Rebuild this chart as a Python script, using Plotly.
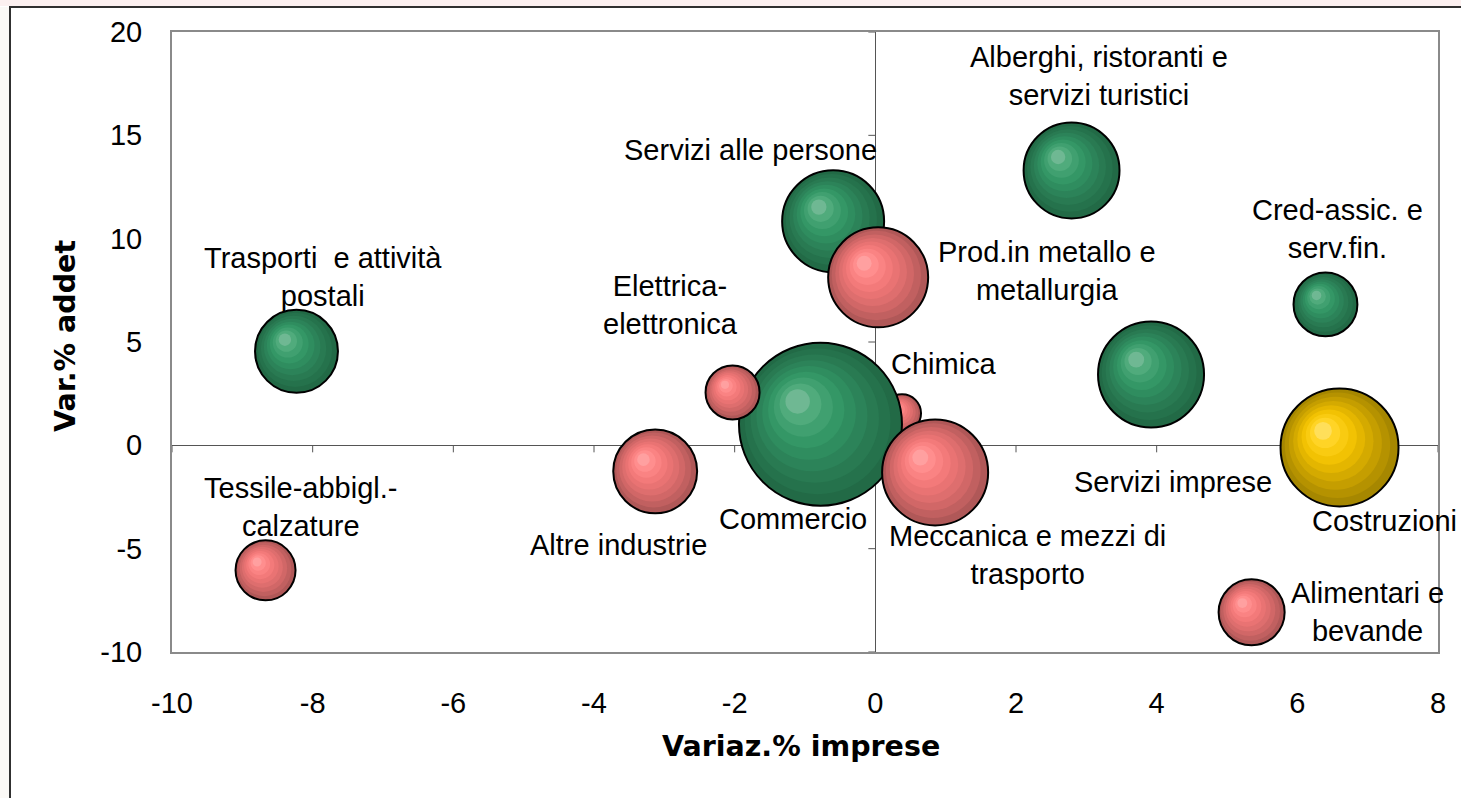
import math
import plotly.graph_objects as go

# ---------------- data ----------------
settori = ["Trasporti e attività postali", "Tessile-abbigl.-calzature", "Altre industrie",
           "Chimica", "Commercio", "Elettrica-elettronica", "Meccanica e mezzi di trasporto",
           "Servizi alle persone", "Prod.in metallo e metallurgia",
           "Alberghi, ristoranti e servizi turistici", "Servizi imprese", "Cred-assic. e serv.fin.",
           "Costruzioni", "Alimentari e bevande"]
etichette = ["Trasporti  e attività<br>postali", "Tessile-abbigl.-<br>calzature", "Altre industrie",
             "Chimica", "Commercio", "Elettrica-<br>elettronica", "Meccanica e mezzi di<br>trasporto",
             "Servizi alle persone", "Prod.in metallo e<br>metallurgia",
             "Alberghi, ristoranti e<br>servizi turistici", "Servizi imprese", "Cred-assic. e<br>serv.fin.",
             "Costruzioni", "Alimentari e<br>bevande"]
var_imprese = [-8.23, -8.67, -3.13, 0.38, -0.78, -2.03, 0.85, -0.60, 0.04, 2.79, 3.92, 6.40, 6.60, 5.35]
var_addetti = [4.55, -6.05, -1.26, 1.55, 1.02, 2.56, -1.31, 10.84, 8.13, 13.30, 3.43, 6.82, -0.10, -8.08]
peso = [172, 90, 176, 36, 664, 73, 281, 260, 250, 230, 281, 102, 348, 109]
gruppo = ["servizi", "industria", "industria", "industria", "servizi", "industria", "industria",
          "servizi", "industria", "servizi", "servizi", "servizi", "costruzioni", "industria"]
# label offsets in pixels (dx, dy up)
lab_dx = [27, 35, -37, 42, -27, -62, 92, -83, 169, 27, 22, 12, 45, 116]
lab_dy = [74, 63, -74, 49, -95, 87, -83, 71, 6, 94, -108, 75, -74, 0]

x_ticks = [-10, -8, -6, -4, -2, 0, 2, 4, 6, 8]
x_ticktext = ["-10", "-8", "-6", "-4", "-2", "0", "2", "4", "6", "8"]
y_ticks = [-10, -5, 0, 5, 10, 15, 20]
y_ticktext = ["-10", "-5", "0", "5", "10", "15", "20"]

# ---------------- layout geometry ----------------
W, H = 1461, 798
ML, MR, MT, MB = 172, 23, 32, 146
PW, PH = W - ML - MR, H - MT - MB
XR, YR = [-10, 8], [-10, 20]
px_per_x = PW / (XR[1] - XR[0])
px_per_y = PH / (YR[1] - YR[0])
SIZE_K = 10.0  # radius^2 = peso * SIZE_K

def px2paper_x(px):
    return (px - ML) / PW

def px2paper_y(py):
    return (MT + PH - py) / PH

palette = {
    "servizi": [(0, "#226a46"), (0.3, "#2a7d55"), (0.6, "#329564"), (0.85, "#4aa878"), (1, "#6fb893")],
    "industria": [(0, "#b05858"), (0.3, "#d86a6a"), (0.6, "#f27878"), (0.85, "#ff8a8a"), (1, "#ffa0a0")],
    "costruzioni": [(0, "#a68700"), (0.3, "#cba200"), (0.6, "#f0c000"), (0.85, "#ffd21c"), (1, "#ffdf5a")],
}

def hex2rgb(h):
    h = h.lstrip("#")
    return [int(h[i:i + 2], 16) for i in (0, 2, 4)]

def interp(stops, t):
    for (t0, c0), (t1, c1) in zip(stops[:-1], stops[1:]):
        if t <= t1:
            f = 0 if t1 == t0 else (t - t0) / (t1 - t0)
            a, b = hex2rgb(c0), hex2rgb(c1)
            return "rgb(%d,%d,%d)" % tuple(round(a[k] + (b[k] - a[k]) * f) for k in range(3))
    return stops[-1][1]

fig = go.Figure()
N = 9
for i in range(len(settori)):
    r = math.sqrt(peso[i] * SIZE_K)
    xs, ys, ds, cs, lw = [], [], [], [], []
    for k in range(N):
        t = k / (N - 1)
        ri = r * (1 - 0.85 * t)
        off = 0.28 * r * t
        xs.append(var_imprese[i] - off / px_per_x)
        ys.append(var_addetti[i] + off / px_per_y)
        ds.append(2 * ri)
        cs.append(interp(palette[gruppo[i]], t))
        lw.append(2 if k == 0 else 0)
    fig.add_trace(go.Scatter(
        x=xs, y=ys, mode="markers", name=settori[i], showlegend=False, hoverinfo="skip",
        marker=dict(size=ds, sizemode="diameter", color=cs, opacity=1,
                    line=dict(width=lw, color="black")),
        cliponaxis=False,
    ))

FONT = "Liberation Sans, Arial, sans-serif"
TFONT = "DejaVu Sans, Verdana, sans-serif"
annotations = []
for i in range(len(settori)):
    annotations.append(dict(
        x=var_imprese[i], y=var_addetti[i], xref="x", yref="y", text=etichette[i],
        showarrow=False, xshift=lab_dx[i], yshift=lab_dy[i], xanchor="center", yanchor="middle",
        align="center", font=dict(family=FONT, size=29, color="black")))

annotations.append(dict(x=px2paper_x(801), y=px2paper_y(746), xref="paper", yref="paper",
                        text="<b>Variaz.% imprese</b>", showarrow=False, xanchor="center", yanchor="middle",
                        font=dict(family=TFONT, size=28.5, color="black")))
annotations.append(dict(x=px2paper_x(65), y=px2paper_y(336), xref="paper", yref="paper",
                        text="<b>Var.% addet</b>", showarrow=False, textangle=-90,
                        xanchor="center", yanchor="middle",
                        font=dict(family=TFONT, size=28.5, color="black")))

shapes = []
# page decoration (pink band on top, dark outer frame)
shapes.append(dict(type="rect", xref="paper", yref="paper", x0=px2paper_x(0), x1=px2paper_x(W),
                   y0=px2paper_y(0), y1=px2paper_y(6), fillcolor="#fcf0f0", line=dict(width=0), layer="below"))
shapes.append(dict(type="rect", xref="paper", yref="paper", x0=px2paper_x(0), x1=px2paper_x(9),
                   y0=px2paper_y(7), y1=px2paper_y(H), fillcolor="#fbf9f6", line=dict(width=0), layer="below"))
shapes.append(dict(type="line", xref="paper", yref="paper", x0=px2paper_x(9), x1=px2paper_x(W),
                   y0=px2paper_y(7), y1=px2paper_y(7), line=dict(color="#303030", width=2)))
shapes.append(dict(type="line", xref="paper", yref="paper", x0=px2paper_x(10), x1=px2paper_x(10),
                   y0=px2paper_y(7), y1=px2paper_y(H), line=dict(color="#303030", width=2)))
# tick marks on the zero lines
for xv in x_ticks:
    shapes.append(dict(type="line", xref="x", yref="y", x0=xv, x1=xv, ysizemode="pixel", yanchor=0,
                       y0=0, y1=-7, line=dict(color="#555555", width=1), layer="below"))
for yv in y_ticks:
    shapes.append(dict(type="line", xref="x", yref="y", y0=yv, y1=yv, xsizemode="pixel", xanchor=0,
                       x0=0, x1=-7, line=dict(color="#555555", width=1), layer="below"))

fig.update_layout(
    width=W, height=H, margin=dict(l=ML, r=MR, t=MT, b=MB, pad=0),
    paper_bgcolor="white", plot_bgcolor="white",
    font=dict(family=FONT, size=29, color="black"),
    annotations=annotations, shapes=shapes,
    xaxis=dict(range=XR, tickvals=x_ticks, ticktext=x_ticktext, showgrid=False, zeroline=True,
               zerolinecolor="#555555", zerolinewidth=1, showline=True, linecolor="#8a8a8a",
               linewidth=2, mirror=True, ticks="", ticklabelstandoff=24,
               tickfont=dict(family=FONT, size=29, color="black"), fixedrange=True),
    yaxis=dict(range=YR, tickvals=y_ticks, ticktext=y_ticktext, showgrid=False, zeroline=True,
               zerolinecolor="#555555", zerolinewidth=1, showline=True, linecolor="#8a8a8a",
               linewidth=2, mirror=True, ticks="", ticklabelstandoff=22,
               tickfont=dict(family=FONT, size=29, color="black"), fixedrange=True),
)

fig.write_html("out.html", config={"displayModeBar": False},
               post_script="document.body.style.margin='0';document.body.style.overflow='hidden';")
